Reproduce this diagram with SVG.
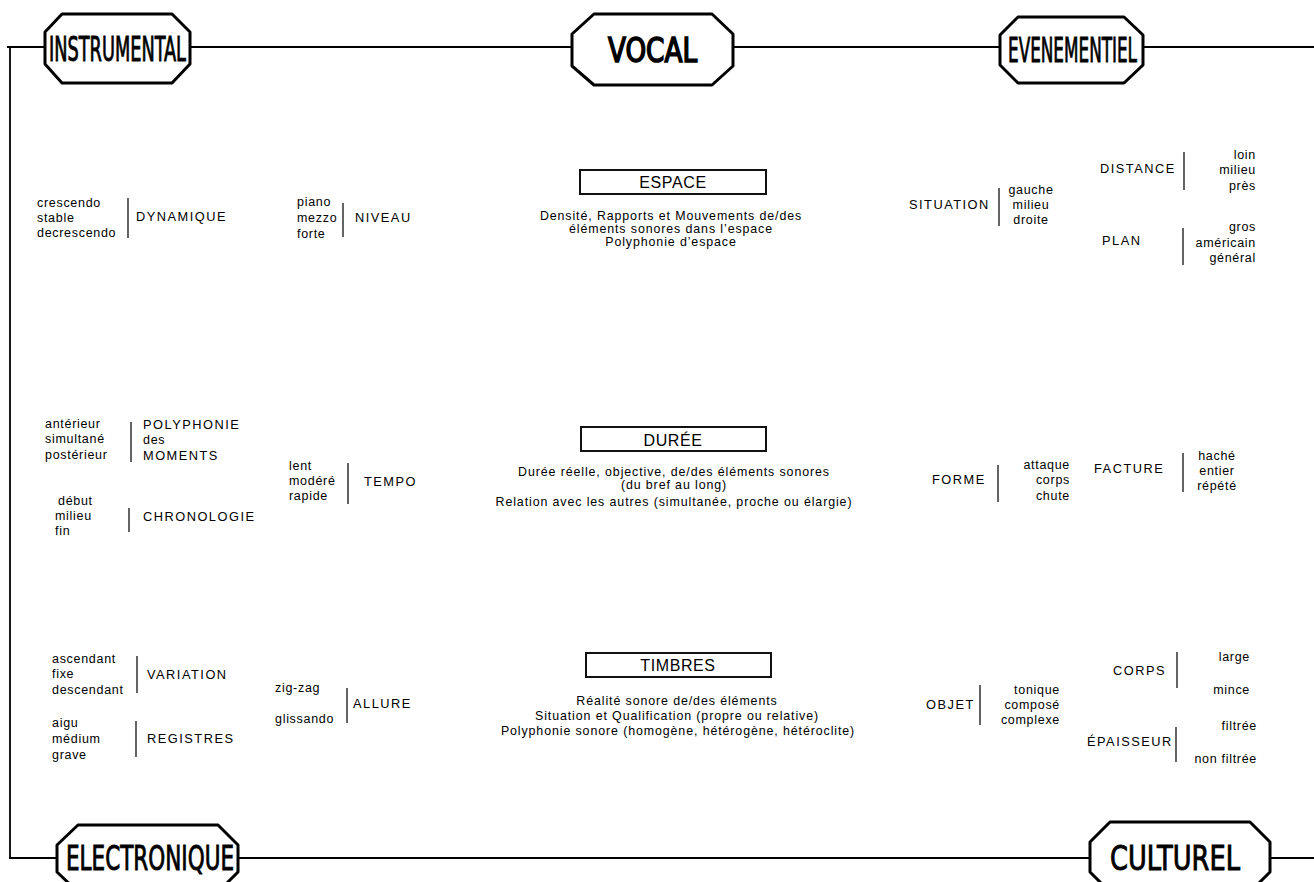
<svg xmlns="http://www.w3.org/2000/svg" width="1314" height="882" viewBox="0 0 1314 882">
<style>
.t{font-family:"Liberation Sans",Arial,sans-serif;font-size:12.5px;letter-spacing:0.7px;fill:#000}
.p{font-family:"Liberation Sans",Arial,sans-serif;font-size:12.4px;letter-spacing:0.9px;fill:#000;text-anchor:middle}
.c{font-family:"Liberation Sans",Arial,sans-serif;font-size:12.8px;letter-spacing:1.5px;fill:#000}
.h{font-family:"Liberation Sans",Arial,sans-serif;font-size:16px;letter-spacing:0.6px;fill:#000}
.m{text-anchor:middle}
.e{text-anchor:end}
.hand{font-family:"DejaVu Sans Condensed","Liberation Sans Narrow",sans-serif;font-weight:normal;font-size:34px;fill:#000;stroke:#000;stroke-width:0.9}
.bar{stroke:#111;stroke-width:1.3;fill:none}
.oct{fill:#fff;stroke:#000;stroke-width:3;stroke-linejoin:round}
.box{fill:#fff;stroke:#111;stroke-width:2}
.ln{stroke:#000;stroke-width:1.8;fill:none}
</style>
<rect width="1314" height="882" fill="#fff"/>
<g id="connectors">
<path class="ln" d="M7,47 H1314"/>
<path class="ln" d="M10,46 V858"/>
<path class="ln" d="M9,858 H1314"/>
</g>
<g id="n-instrumental">
<path class="oct" d="M62,14 H172 L190,32 V64 L172,83 H62 L45,64 V32 Z"/>
<text class="hand" x="49" y="61" textLength="137" lengthAdjust="spacingAndGlyphs">INSTRUMENTAL</text>
</g>
<g id="n-vocal">
<path class="oct" d="M594,14 H712 L733,34 V66 L712,85 H594 L572,66 V34 Z"/>
<text class="hand" x="608" y="62" textLength="89" lengthAdjust="spacingAndGlyphs" style="stroke-width:1.6">VOCAL</text>
</g>
<g id="n-evenementiel">
<path class="oct" d="M1018,17 H1124 L1143,35 V65 L1124,83 H1018 L1000,65 V35 Z"/>
<text class="hand" x="1008" y="62" textLength="129" lengthAdjust="spacingAndGlyphs">EVENEMENTIEL</text>
</g>
<g id="n-electronique">
<path class="oct" d="M78,825 H218 L238,845 V872 L218,892 H78 L57,872 V845 Z"/>
<text class="hand" x="66" y="870" textLength="168" lengthAdjust="spacingAndGlyphs">ELECTRONIQUE</text>
</g>
<g id="n-culturel">
<path class="oct" d="M1110,822 H1250 L1270,842 V872 L1250,892 H1110 L1090,872 V842 Z"/>
<text class="hand" x="1110" y="870" textLength="130" lengthAdjust="spacingAndGlyphs">CULTUREL</text>
</g>

<g id="n-dynamique">
<text class="t" x="37" y="207">crescendo</text>
<text class="t" x="37" y="222">stable</text>
<text class="t" x="37" y="237">decrescendo</text>
<path class="bar" d="M128,198 V238"/>
<text class="c" x="136" y="221">DYNAMIQUE</text>
</g>
<g id="n-niveau">
<text class="t" x="297" y="206">piano</text>
<text class="t" x="297" y="222">mezzo</text>
<text class="t" x="297" y="238">forte</text>
<path class="bar" d="M343,203 V237"/>
<text class="c" x="355" y="222">NIVEAU</text>
</g>
<g id="n-espace">
<rect class="box" x="580" y="170" width="186" height="24"/>
<text class="h m" x="673" y="188">ESPACE</text>
<text class="p" x="671" y="220">Densité, Rapports et Mouvements de/des</text>
<text class="p" x="671" y="233">éléments sonores dans l’espace</text>
<text class="p" x="671" y="246">Polyphonie d’espace</text>
</g>
<g id="n-situation">
<text class="c" x="909" y="209">SITUATION</text>
<path class="bar" d="M999,188 V226"/>
<text class="t m" x="1031" y="194">gauche</text>
<text class="t m" x="1031" y="209">milieu</text>
<text class="t m" x="1031" y="224">droite</text>
</g>
<g id="n-distance">
<text class="c" x="1100" y="173">DISTANCE</text>
<path class="bar" d="M1184,152 V190"/>
<text class="t e" x="1256" y="159">loin</text>
<text class="t e" x="1256" y="174">milieu</text>
<text class="t e" x="1256" y="190">près</text>
</g>
<g id="n-plan">
<text class="c" x="1102" y="245">PLAN</text>
<path class="bar" d="M1183,228 V265"/>
<text class="t e" x="1256" y="231">gros</text>
<text class="t e" x="1256" y="247">américain</text>
<text class="t e" x="1256" y="262">général</text>
</g>

<g id="n-polyphonie">
<text class="t" x="45" y="428">antérieur</text>
<text class="t" x="45" y="443">simultané</text>
<text class="t" x="45" y="459">postérieur</text>
<path class="bar" d="M131,422 V462"/>
<text class="c" x="143" y="429">POLYPHONIE</text>
<text class="t" x="143" y="444">des</text>
<text class="c" x="143" y="460">MOMENTS</text>
</g>
<g id="n-chronologie">
<text class="t" x="58" y="505">début</text>
<text class="t" x="55" y="520">milieu</text>
<text class="t" x="55" y="535">fin</text>
<path class="bar" d="M129,508 V532"/>
<text class="c" x="143" y="521">CHRONOLOGIE</text>
</g>
<g id="n-tempo">
<text class="t" x="289" y="470">lent</text>
<text class="t" x="289" y="485">modéré</text>
<text class="t" x="289" y="500">rapide</text>
<path class="bar" d="M348,463 V504"/>
<text class="c" x="364" y="486">TEMPO</text>
</g>
<g id="n-duree">
<rect class="box" x="581" y="427" width="185" height="24"/>
<text class="h m" x="673" y="446">DURÉE</text>
<text class="p" x="674" y="476">Durée réelle, objective, de/des éléments sonores</text>
<text class="p" x="674" y="489">(du bref au long)</text>
<text class="p" x="674" y="506">Relation avec les autres (simultanée, proche ou élargie)</text>
</g>
<g id="n-forme">
<text class="c" x="932" y="484">FORME</text>
<path class="bar" d="M998,465 V502"/>
<text class="t e" x="1070" y="469">attaque</text>
<text class="t e" x="1070" y="484">corps</text>
<text class="t e" x="1070" y="500">chute</text>
</g>
<g id="n-facture">
<text class="c" x="1094" y="473">FACTURE</text>
<path class="bar" d="M1183,453 V492"/>
<text class="t m" x="1217" y="460">haché</text>
<text class="t m" x="1217" y="475">entier</text>
<text class="t m" x="1217" y="490">répété</text>
</g>

<g id="n-variation">
<text class="t" x="52" y="663">ascendant</text>
<text class="t" x="52" y="678">fixe</text>
<text class="t" x="52" y="694">descendant</text>
<path class="bar" d="M137,656 V693"/>
<text class="c" x="147" y="679">VARIATION</text>
</g>
<g id="n-registres">
<text class="t" x="52" y="727">aigu</text>
<text class="t" x="52" y="743">médium</text>
<text class="t" x="52" y="759">grave</text>
<path class="bar" d="M136,721 V757"/>
<text class="c" x="147" y="743">REGISTRES</text>
</g>
<g id="n-allure">
<text class="t" x="275" y="692">zig-zag</text>
<text class="t" x="275" y="723">glissando</text>
<path class="bar" d="M347,688 V723"/>
<text class="c" x="353" y="708">ALLURE</text>
</g>
<g id="n-timbres">
<rect class="box" x="586" y="653" width="185" height="24"/>
<text class="h m" x="678" y="671">TIMBRES</text>
<text class="p" x="677" y="705">Réalité sonore de/des éléments</text>
<text class="p" x="677" y="720">Situation et Qualification (propre ou relative)</text>
<text class="p" x="678" y="735">Polyphonie sonore (homogène, hétérogène, hétéroclite)</text>
</g>
<g id="n-objet">
<text class="c" x="926" y="709">OBJET</text>
<path class="bar" d="M980,685 V725"/>
<text class="t e" x="1060" y="694">tonique</text>
<text class="t e" x="1060" y="709">composé</text>
<text class="t e" x="1060" y="724">complexe</text>
</g>
<g id="n-corps">
<text class="c" x="1113" y="675">CORPS</text>
<path class="bar" d="M1177,652 V688"/>
<text class="t e" x="1250" y="661">large</text>
<text class="t e" x="1250" y="694">mince</text>
</g>
<g id="n-epaisseur">
<text class="c" x="1087" y="746">ÉPAISSEUR</text>
<path class="bar" d="M1176,727 V762"/>
<text class="t e" x="1257" y="730">filtrée</text>
<text class="t e" x="1257" y="763">non filtrée</text>
</g>
</svg>
